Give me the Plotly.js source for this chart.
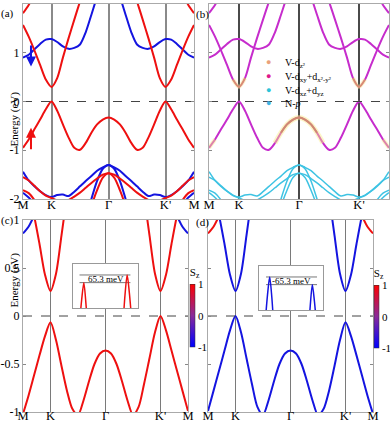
<!DOCTYPE html>
<html>
<head>
<meta charset="utf-8">
<script src="https://cdn.plot.ly/plotly-3.0.1.min.js"></script>
<style>
  body { margin: 0; background: #fff; }
  #graph { width: 390px; height: 424px; }
</style>
</head>
<body>
<div id="graph"></div>
<script>
// k-path M-K-Γ-K'-M
const kPath = [0,0.1,0.2,0.3,0.4,0.5,0.6,0.7,0.8,0.9,1.0,1.1,1.2,1.3,1.4,1.5,1.6,1.7,1.8,1.9,2.0,2.1,2.2,2.3,2.4,2.5,2.6,2.7,2.8,2.9,3.0]
const kTickVals = [0, 0.5, 1.5, 2.5, 3]
const kTickText = ["M", "K", "Γ", "K'", "M"]

// (a)/(b) bands, eV
const upVB = [-0.95,-0.78,-0.57,-0.37,-0.16,0.0,-0.19,-0.47,-0.74,-0.95,-0.99,-0.85,-0.64,-0.47,-0.37,-0.33,-0.37,-0.47,-0.64,-0.85,-0.99,-0.95,-0.74,-0.47,-0.19,0.0,-0.16,-0.37,-0.57,-0.78,-0.95]
const upCB = [1.57,1.33,1.05,0.75,0.45,0.30,0.48,0.9,1.3,1.68,2.05,2.4,2.7,2.9,3.0,3.05,3.0,2.9,2.7,2.4,2.05,1.68,1.3,0.9,0.48,0.30,0.45,0.75,1.05,1.33,1.57]
const upCB2 = [1.81,1.98,2.2,null,null,null,null,null,null,null,null,null,null,null,null,null,null,null,null,null,null,null,null,null,null,null,null,null,2.2,1.98,1.81]
const dnCB = [0.9,0.96,1.07,1.18,1.27,1.28,1.22,1.13,1.08,1.1,1.17,1.42,1.78,2.15,2.45,2.55,2.45,2.15,1.78,1.42,1.17,1.1,1.08,1.13,1.22,1.28,1.27,1.18,1.07,0.96,0.9]
const dnLow1 = [-1.44,-1.62,-1.74,-1.84,-1.92,-1.96,-1.92,-1.91,-1.94,-1.85,-1.74,-1.63,-1.53,-1.42,-1.35,-1.30,-1.35,-1.42,-1.53,-1.63,-1.74,-1.85,-1.94,-1.91,-1.92,-1.96,-1.92,-1.84,-1.74,-1.62,-1.44]
const upLow1 = [-1.55,-1.62,-1.73,-1.84,-1.93,-1.98,-2.03,-2.05,-2.02,-1.95,-1.87,-1.77,-1.67,-1.58,-1.50,-1.47,-1.50,-1.58,-1.67,-1.77,-1.87,-1.95,-2.02,-2.05,-2.03,-1.98,-1.93,-1.84,-1.73,-1.62,-1.55]
const dnLow2 = [null,null,null,null,null,null,null,null,null,null,-2.8,-2.4,-2.0,-1.63,-1.38,-1.30,-1.38,-1.63,-2.0,-2.4,-2.8,null,null,null,null,null,null,null,null,null,null]
const upLow2 = [null,null,null,null,null,null,null,null,null,null,-3.0,-2.6,-2.15,-1.82,-1.56,-1.47,-1.56,-1.82,-2.15,-2.6,-3.0,null,null,null,null,null,null,null,null,null,null]
const dnLow3 = [-1.87,-1.97,-2.1,null,null,null,null,null,null,null,null,null,null,null,null,null,null,null,null,null,null,null,null,null,null,null,null,null,-2.1,-1.97,-1.87]
const upLow3 = [-1.82,-1.88,-2.02,-2.2,null,null,null,null,null,null,null,null,null,null,null,null,null,null,null,null,null,null,null,null,null,null,null,-2.2,-2.02,-1.88,-1.82]

// (c)/(d) bands with SOC, eV
const cVB = [-1.02,-0.83,-0.62,-0.41,-0.21,-0.065,-0.25,-0.52,-0.78,-0.97,-1.03,-0.88,-0.68,-0.5,-0.39,-0.36,-0.39,-0.5,-0.68,-0.88,-1.03,-0.95,-0.71,-0.44,-0.17,0.0,-0.15,-0.36,-0.57,-0.78,-0.99]
const cCB = [1.55,1.3,1.05,0.75,0.43,0.26,0.44,0.84,1.25,1.6,2.0,2.3,2.5,2.6,2.7,2.7,2.7,2.6,2.5,2.3,2.0,1.6,1.25,0.84,0.44,0.26,0.43,0.75,1.05,1.3,1.55]
const cEdge = [0.86,0.93,1.04,1.15,null,null,null,null,null,null,null,null,null,null,null,null,null,null,null,null,null,null,null,null,null,null,null,1.15,1.04,0.93,0.86]
const dVB = [-0.99,-0.78,-0.57,-0.36,-0.15,0.0,-0.17,-0.44,-0.71,-0.95,-1.03,-0.88,-0.68,-0.5,-0.39,-0.36,-0.39,-0.5,-0.68,-0.88,-1.03,-0.97,-0.78,-0.52,-0.25,-0.065,-0.21,-0.41,-0.62,-0.83,-1.02]
const dCB = [1.55,1.3,1.05,0.75,0.43,0.26,0.44,0.84,1.25,1.6,2.0,2.3,2.5,2.6,2.7,2.7,2.7,2.6,2.5,2.3,2.0,1.6,1.25,0.84,0.44,0.26,0.43,0.75,1.05,1.3,1.55]
const dEdge = [0.86,0.93,1.04,1.15,null,null,null,null,null,null,null,null,null,null,null,null,null,null,null,null,null,null,null,null,null,null,null,1.15,1.04,0.93,0.86]

// valley splitting in the insets
const splitLevels = [0, -0.065]
const splitSpanC = [0.3, 2.65]
const splitSpanD = [0.33, 2.72]

const orbitalNames = ["V-d<sub>z²</sub>", "V-d<sub>xy</sub>+d<sub>x²-y²</sub>", "V-d<sub>xz</sub>+d<sub>yz</sub>", "N-<i>p</i>"]
const orbitalColors = ["#eaa27a", "#e0188c", "#2cc3d8", "#3fb4e4"]

const RED = "#ee1010"
const BLUE = "#1414e0"
const MAG = "#c62ccc"
const CYAN = "#3ec3e3"
const FONT = "Liberation Serif"
const W = 390, H = 424

function px(x) { return x / W }
function py(y) { return 1 - y / H }

function band(y, color, xa, ya, width) {
  return {
    x: kPath, y: y, xaxis: xa, yaxis: ya, mode: "lines",
    line: { color: color, width: width || 2, shape: "spline", smoothing: 0.8 },
    hoverinfo: "skip", showlegend: false,
  }
}

function part(y, i0, i1, color, xa, ya, width) {
  return {
    x: kPath.slice(i0, i1 + 1), y: y.slice(i0, i1 + 1), xaxis: xa, yaxis: ya, mode: "lines",
    line: { color: color, width: width, shape: "spline", smoothing: 0.8 },
    hoverinfo: "skip", showlegend: false,
  }
}

function fermi(xa, ya) {
  return {
    x: [0, 3], y: [0, 0], xaxis: xa, yaxis: ya, mode: "lines",
    line: { color: "#444", width: 1, dash: "dash" }, hoverinfo: "skip", showlegend: false,
  }
}

const data = []

// (a) spin-resolved
;[dnLow1, dnLow2, dnLow3].forEach(b => data.push(band(b, BLUE, "x", "y")))
;[upLow1, upLow2, upLow3].forEach(b => data.push(band(b, RED, "x", "y")))
data.push(band(dnCB, BLUE, "x", "y"))
;[upVB, upCB, upCB2].forEach(b => data.push(band(b, RED, "x", "y")))
data.push(fermi("x", "y"))

// (b) orbital-resolved
;[dnLow1, dnLow2, dnLow3, upLow1, upLow2, upLow3].forEach(b => data.push(band(b, CYAN, "x2", "y2", 1.5)))
;[dnCB, upVB, upCB, upCB2].forEach(b => data.push(band(b, MAG, "x2", "y2")))
const glow = "rgba(248,236,130,0.45)"
;[[upVB, 11, 19, 5], [upVB, 0, 1, 4], [upVB, 29, 30, 4], [upCB, 4, 6, 4], [upCB, 24, 26, 4]].forEach(s => {
  data.push(part(s[0], s[1], s[2], glow, "x2", "y2", s[3]))
})
data.push(part(upVB, 12, 18, "#d08a70", "x2", "y2", 2))
data.push(part(upCB, 4, 6, "#d8906c", "x2", "y2", 1.5))
data.push(part(upCB, 24, 26, "#d8906c", "x2", "y2", 1.5))
data.push(fermi("x2", "y2"))

// (c) and (d) with SOC
data.push(band(cEdge, BLUE, "x3", "y3"))
data.push(band(cVB, RED, "x3", "y3"))
data.push(band(cCB, RED, "x3", "y3"))
data.push(fermi("x3", "y3"))
data.push(band(dEdge, RED, "x4", "y4"))
data.push(band(dVB, BLUE, "x4", "y4"))
data.push(band(dCB, BLUE, "x4", "y4"))
data.push(fermi("x4", "y4"))

// insets
splitLevels.forEach(e => {
  data.push({ x: splitSpanC, y: [e, e], xaxis: "x5", yaxis: "y5", mode: "lines",
    line: { color: "#777", width: 1 }, hoverinfo: "skip", showlegend: false })
  data.push({ x: splitSpanD, y: [e, e], xaxis: "x6", yaxis: "y6", mode: "lines",
    line: { color: "#777", width: 1 }, hoverinfo: "skip", showlegend: false })
})
data.push(band(cVB, RED, "x5", "y5", 1.5))
data.push(band(dVB, BLUE, "x6", "y6", 1.5))

// S_z colour bars
const szScale = [[0, "#0000ff"], [0.5, "#8a2a9a"], [1, "#ff0000"]]
function szBar(xa, ya, xPix, yMid) {
  return {
    x: [10], y: [10], xaxis: xa, yaxis: ya, mode: "markers", hoverinfo: "skip", showlegend: false,
    marker: {
      color: [0], cmin: -1, cmax: 1, colorscale: szScale, showscale: true,
      colorbar: {
        x: px(xPix), xanchor: "left", xpad: 0, ypad: 0,
        y: py(yMid), yanchor: "middle", len: 82, lenmode: "pixels", thickness: 5,
        outlinewidth: 0.5, outlinecolor: "#333",
        tickvals: [-1, 0, 1], ticktext: ["-1", "0", "1"], ticks: "",
        tickfont: { family: FONT, size: 11, color: "#000" },
        title: { text: "S<sub>z</sub>", side: "top", font: { family: FONT, size: 11, color: "#000" } },
      },
    },
  }
}
data.push(szBar("x3", "y3", 190, 306))
data.push(szBar("x4", "y4", 374, 307))

function kAxis(x0, x1, anchor, gridColor, gridWidth, standoff) {
  return {
    domain: [px(x0), px(x1)], anchor: anchor, range: [0, 3],
    tickvals: kTickVals, ticktext: kTickText, ticks: "", ticklabelstandoff: standoff,
    showgrid: true, gridcolor: gridColor, gridwidth: gridWidth, zeroline: false,
    showline: true, mirror: true, linecolor: "#aaa", linewidth: 1,
    tickfont: { family: FONT, size: 12.5, color: "#000" }, fixedrange: true,
  }
}
function eAxis(y0, y1, anchor, range, vals, labels) {
  return {
    domain: [py(y1), py(y0)], anchor: anchor, range: range,
    tickvals: vals, ticktext: labels || vals.map(String), showticklabels: !!labels,
    ticks: "inside", ticklen: 3, tickcolor: "#888",
    showgrid: false, zeroline: false, showline: true, mirror: "ticks", linecolor: "#aaa", linewidth: 1,
    tickfont: { family: FONT, size: 12, color: "#000" }, fixedrange: true,
  }
}
function insetAxes(x0, x1, y0, y1, anchorX, anchorY) {
  const common = { showticklabels: false, ticks: "", showgrid: false, zeroline: false,
    showline: true, mirror: true, linecolor: "#999", linewidth: 1, fixedrange: true }
  return [
    Object.assign({ domain: [px(x0), px(x1)], anchor: anchorY, range: [0, 3] }, common),
    Object.assign({ domain: [py(y1), py(y0)], anchor: anchorX, range: [-0.28, 0.093] }, common),
  ]
}

const abVals = [-2, -1, 0, 1, 2]
const cdVals = [-1, -0.5, 0, 0.5, 1]
const [x5, y5] = insetAxes(73, 138, 264, 308, "x5", "y5")
const [x6, y6] = insetAxes(259, 323, 266, 310, "x6", "y6")

function label(text, x, y, size, extra) {
  return Object.assign({ text: text, xref: "paper", yref: "paper", x: px(x), y: py(y),
    showarrow: false, font: { family: FONT, size: size, color: "#000" } }, extra || {})
}

const annotations = [
  label("(a)", -1, 5, 11, { xanchor: "left" }),
  label("(b)", 194, 6, 11, { xanchor: "left" }),
  label("(c)", -1, 220, 11, { xanchor: "left" }),
  label("(d)", 194, 222, 11, { xanchor: "left" }),
  label("Energy (eV)", 5.5, 90, 11, { textangle: -90 }),
  label("Energy (eV)", 5.5, 310, 11, { textangle: -90 }),
  // spin arrows
  { x: 0.14, y: 0.72, ax: 0.14, ay: 1.18, xref: "x", yref: "y", axref: "x", ayref: "y", text: "",
    showarrow: true, arrowhead: 2, arrowsize: 1, arrowwidth: 2, arrowcolor: BLUE },
  { x: 0.14, y: -0.54, ax: 0.14, ay: -1.01, xref: "x", yref: "y", axref: "x", ayref: "y", text: "",
    showarrow: true, arrowhead: 2, arrowsize: 1, arrowwidth: 2, arrowcolor: RED },
  // inset labels
  { text: "65.3 meV", x: 1.5, y: -0.03, xref: "x5", yref: "y5", showarrow: false,
    font: { family: FONT, size: 9, color: "#000" } },
  { text: "-65.3 meV", x: 1.5, y: -0.03, xref: "x6", yref: "y6", showarrow: false,
    font: { family: FONT, size: 9, color: "#000" } },
]
// orbital legend of (b)
const legendY = [55, 69, 83, 96]
orbitalNames.forEach((name, i) => {
  annotations.push(label("●", 273, legendY[i], 9, { font: { size: 9, color: orbitalColors[i] } }))
  annotations.push(label(name, 283, legendY[i], 10, { xanchor: "left" }))
})

const layout = {
  width: W, height: H,
  margin: { l: 0, r: 0, t: 0, b: 0 },
  paper_bgcolor: "#fff", plot_bgcolor: "#fff",
  showlegend: false,
  font: { family: FONT, size: 12, color: "#000" },
  xaxis: kAxis(23, 194, "y", "#8a8a8a", 2, -6),
  yaxis: eAxis(4, 199, "x", [-2, 2], abVals, abVals.map(String)),
  xaxis2: kAxis(209, 389, "y2", "#4a4a4a", 1.3, -6),
  yaxis2: eAxis(4, 199, "x2", [-2, 2], abVals),
  xaxis3: kAxis(23, 188, "y3", "#7a7a7a", 1.5, -8),
  yaxis3: eAxis(220, 412, "x3", [-1, 1], cdVals, cdVals.map(String)),
  xaxis4: kAxis(208, 373, "y4", "#7a7a7a", 1.5, -8),
  yaxis4: eAxis(220, 412, "x4", [-1, 1], cdVals),
  xaxis5: x5, yaxis5: y5,
  xaxis6: x6, yaxis6: y6,
  annotations: annotations,
}

Plotly.newPlot("graph", data, layout, { staticPlot: true })
</script>
</body>
</html>
